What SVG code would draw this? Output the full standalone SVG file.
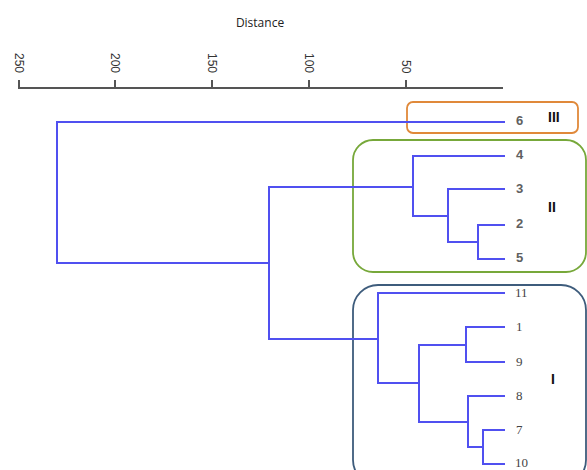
<svg xmlns="http://www.w3.org/2000/svg" width="587" height="470" viewBox="0 0 587 470">
<style>
.tree{fill:none;stroke:#5050f0;stroke-width:2;stroke-linecap:square}
.axis{fill:none;stroke:#555;stroke-width:2}
.tick{font-family:"Liberation Sans",Arial,sans-serif;font-size:12px;fill:#333}
.ls{font-family:"Liberation Sans",Arial,sans-serif;font-size:13px;font-weight:bold;fill:#606060}
.lt{font-family:"Liberation Serif","Times New Roman",serif;font-size:13px;fill:#444}
.rn{font-family:"Liberation Sans",Arial,sans-serif;font-size:14px;font-weight:bold;fill:#111}
.box{fill:none;stroke-width:1.8}
</style>
<rect width="587" height="470" fill="#fff"/>
<g id="axis">
<text x="260" y="27" text-anchor="middle" style="font-family:'Open Sans','Liberation Sans',sans-serif;font-size:12px;fill:#222">Distance</text>
<path class="axis" d="M18 88H503M19 80V88M115 80V88M212 80V88M309 80V88M406 80V88"/>
<text class="tick" transform="translate(15,53) rotate(90)">250</text>
<text class="tick" transform="translate(111,53) rotate(90)">200</text>
<text class="tick" transform="translate(208,53) rotate(90)">150</text>
<text class="tick" transform="translate(305,53) rotate(90)">100</text>
<text class="tick" transform="translate(402,60) rotate(90)">50</text>
</g>
<g id="clusters">
<rect id="cluster-III" class="box" x="407" y="102" width="171" height="31" rx="6" stroke="#e0893a"/>
<rect id="cluster-II" class="box" x="353" y="140" width="233" height="132" rx="20" stroke="#77a83a"/>
<rect id="cluster-I" class="box" x="353" y="285" width="233" height="200" rx="25" stroke="#3e5c7c"/>
</g>
<g id="connectors">
<path class="tree" d="M57 122V263M57 122H504M57 263H269"/>
<path class="tree" d="M269 187V339M269 187H413M269 339H378"/>
<path class="tree" d="M413 156V216M413 156H504M413 216H448"/>
<path class="tree" d="M448 189V242M448 189H504M448 242H478"/>
<path class="tree" d="M478 225V259M478 225H504M478 259H504"/>
<path class="tree" d="M378 293V383M378 293H504M378 383H419"/>
<path class="tree" d="M419 345V422M419 345H466M419 422H468"/>
<path class="tree" d="M466 327V362M466 327H504M466 362H504"/>
<path class="tree" d="M468 396V447M468 396H504M468 447H483"/>
<path class="tree" d="M483 430V464M483 430H504M483 464H504"/>
</g>
<g id="leaf-6"><text class="ls" x="516" y="125">6</text></g>
<g id="leaf-4"><text class="ls" x="516" y="159">4</text></g>
<g id="leaf-3"><text class="ls" x="516" y="193">3</text></g>
<g id="leaf-2"><text class="ls" x="516" y="228">2</text></g>
<g id="leaf-5"><text class="ls" x="516" y="262">5</text></g>
<g id="leaf-11"><text class="lt" x="515" y="297">11</text></g>
<g id="leaf-1"><text class="lt" x="516" y="331">1</text></g>
<g id="leaf-9"><text class="lt" x="516" y="366">9</text></g>
<g id="leaf-8"><text class="lt" x="516" y="400">8</text></g>
<g id="leaf-7"><text class="lt" x="516" y="434">7</text></g>
<g id="leaf-10"><text class="lt" x="515" y="467">10</text></g>
<g id="label-III"><text class="rn" x="548" y="122">III</text></g>
<g id="label-II"><text class="rn" x="548" y="212">II</text></g>
<g id="label-I"><text class="rn" x="551" y="384">I</text></g>
</svg>
